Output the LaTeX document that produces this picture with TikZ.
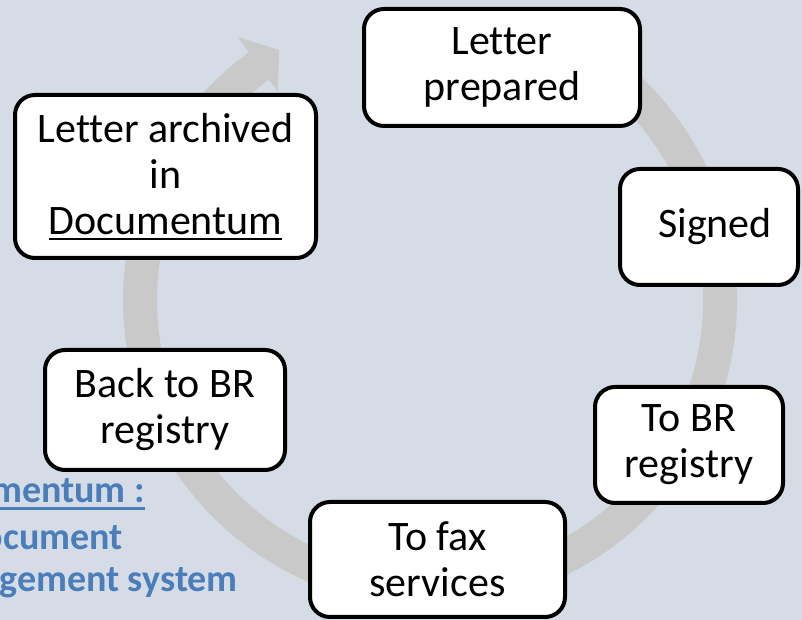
\documentclass[tikz,border=0pt]{standalone}
\usepackage{fontspec}
\setmainfont{Carlito}[Ligatures=NoCommon]
\definecolor{bgc}{HTML}{D6DCE5}
\definecolor{ringc}{HTML}{C9C9C9}
\definecolor{bluec}{HTML}{4A7EBB}
\newcommand\myul[2][5pt]{\begingroup\setbox0\hbox{#2}\rlap{\rule[-#1]{\wd0}{2.5pt}}\box0\endgroup}
\begin{document}
\begin{tikzpicture}[x=1pt,y=1pt,
  stepbox/.style={draw=black, line width=4pt, fill=white, rounded corners=20pt,
    inner sep=0pt, align=center, font=\fontsize{42}{46}\selectfont},
  bluelbl/.style={text=bluec, inner sep=0pt, font=\fontsize{38}{44}\selectfont\bfseries, anchor=base east}]
\useasboundingbox (0,0) rectangle (802,620);
\clip (0,0) rectangle (802,620);
\fill[bgc] (0,0) rectangle (802,620);
% circular arrow
\coordinate (c) at (430,320);
\draw[ringc, line width=34pt] (c) ++(60:290) arc[start angle=60, end angle=-233.8, radius=290];
\coordinate (w1) at (237.5,583.1);
\coordinate (tip) at (279.2,570);
\coordinate (w2) at (277.6,528.2);
\fill[ringc] (w1) -- (tip) -- (w2) -- cycle;
% steps
\node[stepbox, minimum width=276pt, minimum height=117pt] (prep) at (502,552.5) {Letter\\prepared};
\node[stepbox, minimum width=178pt, minimum height=116pt] (signed) at (709,393) {\hspace*{12pt}Signed};
\node[stepbox, minimum width=188pt, minimum height=116pt] (tobr) at (689,175) {To BR\\registry};
\node[stepbox, minimum width=255pt, minimum height=115pt] (fax) at (437.5,60.5) {To fax\\services};
\node[stepbox, minimum width=240pt, minimum height=120pt] (back) at (165,210) {Back to BR\\registry};
\node[stepbox, minimum width=301pt, minimum height=163pt] (arch) at (165.5,443.5) {Letter archived\\in\\\myul[6pt]{Documentum}};
% note
\node[bluelbl] (n1) at (145,117) {\myul[7pt]{Documentum :}};
\node[bluelbl] (n2) at (123,70) {Document};
\node[bluelbl] (n3) at (238,28) {management system};
\end{tikzpicture}
\end{document}
